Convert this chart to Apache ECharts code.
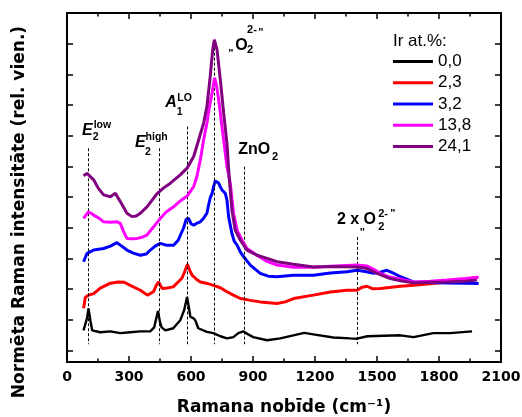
<!DOCTYPE html>
<html>
<head>
<meta charset="utf-8">
<script src="https://cdn.jsdelivr.net/npm/echarts@6/dist/echarts.min.js"></script>
<style>
  html, body { margin: 0; padding: 0; background: #ffffff; }
  #chart { width: 522px; height: 417px; }
</style>
</head>
<body>
<div id="chart"></div>
<script>
// Raman spectra of ZnO films with different Ir content (curves offset vertically)
const seriesNames = ['0,0', '2,3', '3,2', '13,8', '24,1'];
const seriesColors = ['#000000', '#ff0000', '#0000ff', '#ff00ff', '#800080'];

// [wavenumber cm-1, normalized intensity]
const ir00 = [[80,0.65],[97,1.05],[104,1.37],[113,0.98],[122,0.65],[161,0.59],[210,0.62],[258,0.56],[306,0.59],[355,0.62],[403,0.62],[422,0.75],[440,1.28],[450,0.92],[458,0.75],[476,0.65],[514,0.72],[548,0.98],[567,1.31],[581,1.74],[588,1.47],[597,1.09],[611,1.05],[621,0.98],[635,0.72],[677,0.60],[708,0.56],[742,0.46],[774,0.39],[805,0.43],[829,0.56],[853,0.62],[877,0.52],[901,0.43],[968,0.33],[1032,0.39],[1095,0.49],[1148,0.57],[1192,0.52],[1289,0.42],[1371,0.39],[1403,0.38],[1453,0.46],[1613,0.49],[1677,0.43],[1772,0.56],[1854,0.56],[1960,0.62]];
const ir23 = [[80,1.37],[89,1.73],[104,1.80],[129,1.85],[161,2.03],[210,2.19],[248,2.23],[277,2.22],[306,2.12],[355,1.96],[389,1.80],[418,1.91],[432,2.12],[443,2.23],[460,2.02],[485,2.03],[514,2.07],[556,2.35],[572,2.61],[583,2.81],[594,2.61],[605,2.45],[626,2.32],[645,2.23],[674,2.19],[709,2.12],[742,2.04],[774,1.91],[805,1.80],[839,1.69],[887,1.63],[935,1.58],[1016,1.53],[1056,1.58],[1096,1.69],[1192,1.80],[1274,1.90],[1355,1.96],[1403,1.96],[1429,2.06],[1452,2.09],[1477,2.01],[1516,2.02],[1613,2.09],[1677,2.12],[1758,2.17],[1839,2.23],[1927,2.32],[1984,2.38]];
const ir32 = [[80,2.89],[97,3.16],[129,3.27],[177,3.32],[210,3.40],[242,3.51],[258,3.43],[290,3.27],[321,3.17],[355,3.10],[384,3.14],[403,3.27],[427,3.40],[451,3.49],[480,3.43],[516,3.43],[538,3.59],[564,3.99],[577,4.28],[588,4.30],[601,4.12],[613,4.08],[630,4.15],[645,4.19],[661,4.31],[677,4.47],[685,4.74],[693,4.97],[702,5.12],[709,5.33],[717,5.52],[726,5.58],[733,5.46],[742,5.33],[750,5.23],[766,5.12],[774,4.90],[782,4.36],[798,3.81],[809,3.56],[823,3.43],[839,3.20],[855,3.05],[887,2.78],[935,2.51],[974,2.42],[1016,2.40],[1096,2.45],[1192,2.45],[1274,2.52],[1355,2.56],[1403,2.61],[1443,2.57],[1484,2.51],[1516,2.55],[1548,2.61],[1579,2.52],[1613,2.40],[1677,2.23],[1758,2.21],[1839,2.20],[1927,2.19],[1992,2.18]];
const ir138 = [[80,4.30],[104,4.52],[129,4.41],[161,4.28],[177,4.19],[210,4.18],[242,4.19],[258,4.14],[274,3.87],[290,3.65],[311,3.64],[339,3.65],[364,3.69],[387,3.76],[418,4.02],[451,4.30],[480,4.51],[516,4.68],[548,4.87],[581,5.03],[613,5.34],[628,5.65],[645,6.21],[661,6.86],[677,7.41],[689,7.94],[702,8.39],[714,8.88],[722,8.69],[734,8.17],[747,7.45],[758,6.86],[774,5.99],[790,5.45],[806,4.47],[823,3.92],[847,3.59],[871,3.32],[919,3.10],[964,2.91],[1016,2.78],[1096,2.71],[1192,2.71],[1298,2.75],[1403,2.78],[1452,2.75],[1482,2.65],[1516,2.51],[1555,2.40],[1597,2.34],[1677,2.23],[1758,2.25],[1839,2.29],[1927,2.34],[1992,2.38]];
const ir241 = [[80,5.69],[97,5.77],[129,5.56],[151,5.29],[177,5.07],[210,5.01],[234,5.12],[258,4.85],[290,4.47],[314,4.36],[335,4.38],[355,4.47],[387,4.68],[435,5.10],[466,5.29],[500,5.45],[548,5.72],[581,5.94],[613,6.32],[637,6.86],[661,7.41],[677,7.95],[693,8.93],[705,9.80],[713,10.13],[726,9.80],[742,8.82],[758,7.74],[774,6.75],[785,5.62],[798,4.58],[814,3.92],[839,3.59],[871,3.27],[919,3.10],[968,3.00],[1016,2.89],[1096,2.81],[1192,2.72],[1298,2.73],[1403,2.72],[1448,2.68],[1484,2.56],[1521,2.45],[1564,2.34],[1613,2.27],[1677,2.20],[1758,2.22],[1839,2.23],[1927,2.25],[1984,2.29]];
const spectra = [ir00, ir23, ir32, ir138, ir241];

const xTickLabels = ['0', '300', '600', '900', '1200', '1500', '1800', '2100'];
const yTicks = [0, 1, 2, 3, 4, 5, 6, 7, 8, 9, 10, 11];

// Mode assignments: position (cm-1) and top of the guide line
const modeNames = ['E2low', 'E2high', 'A1LO', 'O2', 'ZnO2', '2xO2'];
const modePositions = [104, 447, 581, 713, 859, 1403];
const modeLineTops = [6.59, 6.59, 7.30, 9.87, 5.99, 3.70];
const modeLineBottom = 0.2;

// Text pieces of each mode label, placed relative to the top of its guide line
const labelFont = 'Liberation Sans';
function piece(t, dx, dy, size, italic) {
  return { t, dx, dy, size, italic: !!italic };
}
const modeLabelParts = {
  E2low:  [piece('E', -6.6, -17.5, 16, true), piece('low', 5.2, -23.3, 10.5), piece('2', 4.2, -11.3, 10.5)],
  E2high: [piece('E', -24.3, -5.8, 16, true), piece('high', -13.8, -11.3, 10.5), piece('2', -14.3, 3.4, 10.5)],
  A1LO:   [piece('A', -21.7, -23.4, 16, true), piece('LO', -9.7, -28.4, 10.5), piece('1', -10.2, -14.4, 10.5)],
  O2:     [piece('"', 14, 6.3, 11), piece('O', 21, -2.2, 16), piece('2-', 32.7, -18, 11), piece('2', 32.7, 2.8, 11), piece('"', 44, -14.7, 11)],
  ZnO2:   [piece('ZnO', -6.3, -16.7, 16), piece('2', 27.4, -9.2, 11)],
  '2xO2': [piece('2 x', -20, -17.7, 16), piece('"', 2.8, -3.9, 11), piece('O', 6.6, -17.7, 16), piece('2', 21.3, -10.2, 11), piece('2-', 21.3, -23.2, 11), piece('"', 33.3, -23.4, 11)]
};

const chart = echarts.init(document.getElementById('chart'), null, { renderer: 'canvas' });

const axisLineStyle = { color: '#000', width: 2 };
const tickStyle = { color: '#000', width: 1.5 };

function xAxisDef(position, showLabels) {
  return {
    type: 'value', position, min: 0, max: 2100, interval: 300,
    axisLine: { show: true, onZero: false, lineStyle: axisLineStyle },
    axisTick: { show: true, inside: true, length: 6, lineStyle: tickStyle },
    minorTick: { show: true, splitNumber: 2, length: 3.5, lineStyle: tickStyle },
    axisLabel: {
      show: showLabels, margin: 8, color: '#000',
      fontFamily: 'DejaVu Sans', fontWeight: 'bold', fontSize: 14,
      formatter: (v) => xTickLabels[Math.round(v / 300)]
    },
    splitLine: { show: false }, minorSplitLine: { show: false }
  };
}
function yAxisDef(position) {
  return {
    type: 'value', position, min: -0.38, max: 11,
    axisLine: { show: true, onZero: false, lineStyle: axisLineStyle },
    axisTick: { show: true, inside: true, length: 6, lineStyle: tickStyle, customValues: yTicks },
    axisLabel: { show: false, customValues: yTicks },
    splitLine: { show: false }
  };
}

const xMain = xAxisDef('bottom', true);
xMain.name = 'Ramana nobīde (cm⁻¹)';
xMain.nameLocation = 'middle';
xMain.nameGap = 37;
xMain.nameTextStyle = { fontFamily: 'DejaVu Sans', fontWeight: 'bold', fontSize: 17, color: '#000' };

const series = spectra.map((data, i) => ({
  name: seriesNames[i],
  type: 'line',
  data,
  xAxisIndex: 0, yAxisIndex: 0,
  showSymbol: false, symbol: 'none',
  lineStyle: { color: seriesColors[i], width: i === 0 ? 2.4 : 3 },
  itemStyle: { color: seriesColors[i] },
  z: 2 + i,
  silent: true
}));
series.push({
  name: 'modes',
  type: 'line',
  data: [],
  xAxisIndex: 0, yAxisIndex: 0,
  z: 1,
  markLine: {
    silent: true, animation: false,
    symbol: ['none', 'none'],
    label: { show: false },
    lineStyle: { type: [3, 2], color: '#000', width: 1 },
    data: modePositions.map((x, i) => [{ coord: [x, modeLineTops[i]] }, { coord: [x, modeLineBottom] }])
  }
});

chart.setOption({
  animation: false,
  backgroundColor: '#ffffff',
  grid: { left: 67, right: 21, top: 13, bottom: 55, containLabel: false, outerBoundsMode: 'none' },
  xAxis: [xMain, xAxisDef('top', false)],
  yAxis: [yAxisDef('left'), yAxisDef('right')],
  legend: {
    data: seriesNames,
    orient: 'vertical', left: 393, top: 51,
    icon: 'rect', itemWidth: 40, itemHeight: 3, itemGap: 0, padding: 0,
    selectedMode: false,
    textStyle: { fontFamily: labelFont, fontSize: 17, color: '#000', lineHeight: 21.2 }
  },
  series
});

// Mode labels, legend title and y-axis title
const graphics = [];
modeNames.forEach((name, i) => {
  const [ax, ay] = chart.convertToPixel({ gridIndex: 0 }, [modePositions[i], modeLineTops[i]]);
  modeLabelParts[name].forEach((p) => {
    graphics.push({
      type: 'text', x: ax + p.dx, y: ay + p.dy, z: 20, silent: true,
      style: {
        text: p.t, fill: '#000',
        font: (p.italic ? 'italic ' : '') + 'bold ' + p.size + 'px "' + labelFont + '"',
        align: 'left', verticalAlign: 'middle', textAlign: 'left', textVerticalAlign: 'middle'
      }
    });
  });
});
graphics.push({
  type: 'text', x: 393, y: 41.5, z: 20, silent: true,
  style: { text: 'Ir at.%:', fill: '#000', font: '17px "' + labelFont + '"',
    align: 'left', verticalAlign: 'middle', textAlign: 'left', textVerticalAlign: 'middle' }
});
graphics.push({
  type: 'text', x: 20, y: 212, rotation: Math.PI / 2, z: 20, silent: true,
  style: { text: 'Normēta Raman intensitāte (rel. vien.)', fill: '#000',
    font: 'bold 17px "DejaVu Sans"',
    align: 'center', verticalAlign: 'middle', textAlign: 'center', textVerticalAlign: 'middle' }
});
chart.setOption({ graphic: graphics });
</script>
</body>
</html>
